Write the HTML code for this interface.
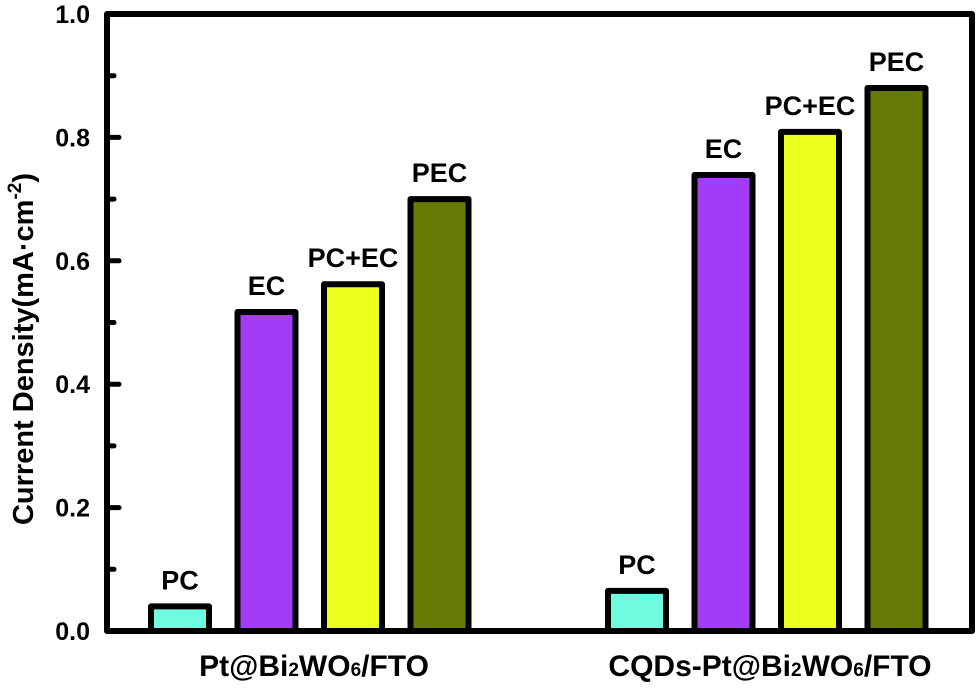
<!DOCTYPE html>
<html><head><meta charset="utf-8"><style>
body{margin:0;background:#fff}
svg{display:block;font-family:"Liberation Sans",Arial,sans-serif;font-weight:bold}
</style></head><body>
<svg id="chart" width="980" height="691" viewBox="0 0 980 691"></svg>
<script>
const groups = ["Pt@Bi2WO6/FTO", "CQDs-Pt@Bi2WO6/FTO"];
const series = ["PC", "EC", "PC+EC", "PEC"];
const group1Values = [0.04, 0.517, 0.562, 0.70];
const group2Values = [0.065, 0.739, 0.809, 0.88];
const yTicks = [0.0, 0.2, 0.4, 0.6, 0.8, 1.0];
const yTickLabels = ["0.0", "0.2", "0.4", "0.6", "0.8", "1.0"];

const NS = "http://www.w3.org/2000/svg";
const svg = document.getElementById("chart");
const colors = ["#6ffbe0", "#a23cf7", "#eaff1e", "#667a06"];
const L = 107, R = 972, T = 14, B = 631;
const y = v => B - (v / 1.0) * (B - T);
const groupStart = [148, 605];
const pitch = 86.5, barW = 64;
const x = (g, s) => groupStart[g] + s * pitch;

function mk(tag, attrs, parent) {
  const e = document.createElementNS(NS, tag);
  for (const k in attrs) e.setAttribute(k, attrs[k]);
  (parent || svg).appendChild(e);
  return e;
}

[group1Values, group2Values].forEach((vals, g) => {
  vals.forEach((v, s) => {
    const r = mk("rect", {x: x(g, s) + 3, y: y(v), width: barW - 6, height: B - y(v), fill: colors[s], stroke: "#000", "stroke-width": 6, "stroke-linejoin": "round"});
    
    
    const t = mk("text", {x: x(g, s) + barW / 2, y: y(v) - 17, "text-anchor": "middle", "font-size": 27});
    t.textContent = series[s];
    
    
  });
});

const f = mk("rect", {x: L, y: T, width: R - L, height: B - T, fill: "none", stroke: "#000", "stroke-width": 6, "stroke-linejoin": "round"});



for (let i = 0; i < yTicks.length; i++) {
  const yy = y(yTicks[i]);
  const tk = mk("line", {x1: L, x2: L + 12, y1: yy, y2: yy, stroke: "#000", "stroke-width": 5, "stroke-linecap": "round"});
  
  
  if (i < yTicks.length - 1) {
    const ym = y((yTicks[i] + yTicks[i + 1]) / 2);
    const mt = mk("line", {x1: L, x2: L + 7, y1: ym, y2: ym, stroke: "#000", "stroke-width": 5, "stroke-linecap": "round"});
    
    
  }
  const lb = mk("text", {x: 90, y: yy + 9, "text-anchor": "end", "font-size": 25});
  lb.textContent = yTickLabels[i];
  
  
}

const gcx = [314, 770];
groups.forEach((gname, g) => {
  const t = mk("text", {x: gcx[g], y: 676, "text-anchor": "middle", "font-size": 30});
  const m = gname.match(/^(.*Bi)2(WO)6(.*)$/);
  const parts = [[m[1], 30], ["2", 19], [m[2], 30], ["6", 19], [m[3], 30]];
  parts.forEach(p => { const ts = mk("tspan", {"font-size": p[1]}, t); ts.textContent = p[0]; });
  
  
});

const yt = mk("text", {x: 0, y: 0, "text-anchor": "middle", "font-size": 29, transform: "translate(33,349) rotate(-90)"});


const a = mk("tspan", {}, yt); a.textContent = "Current Density(mA·cm";
const b = mk("tspan", {dy: -12, "font-size": 19}, yt); b.textContent = "-2";
const c = mk("tspan", {dy: 12}, yt); c.textContent = ")";
</script>
</body></html>
